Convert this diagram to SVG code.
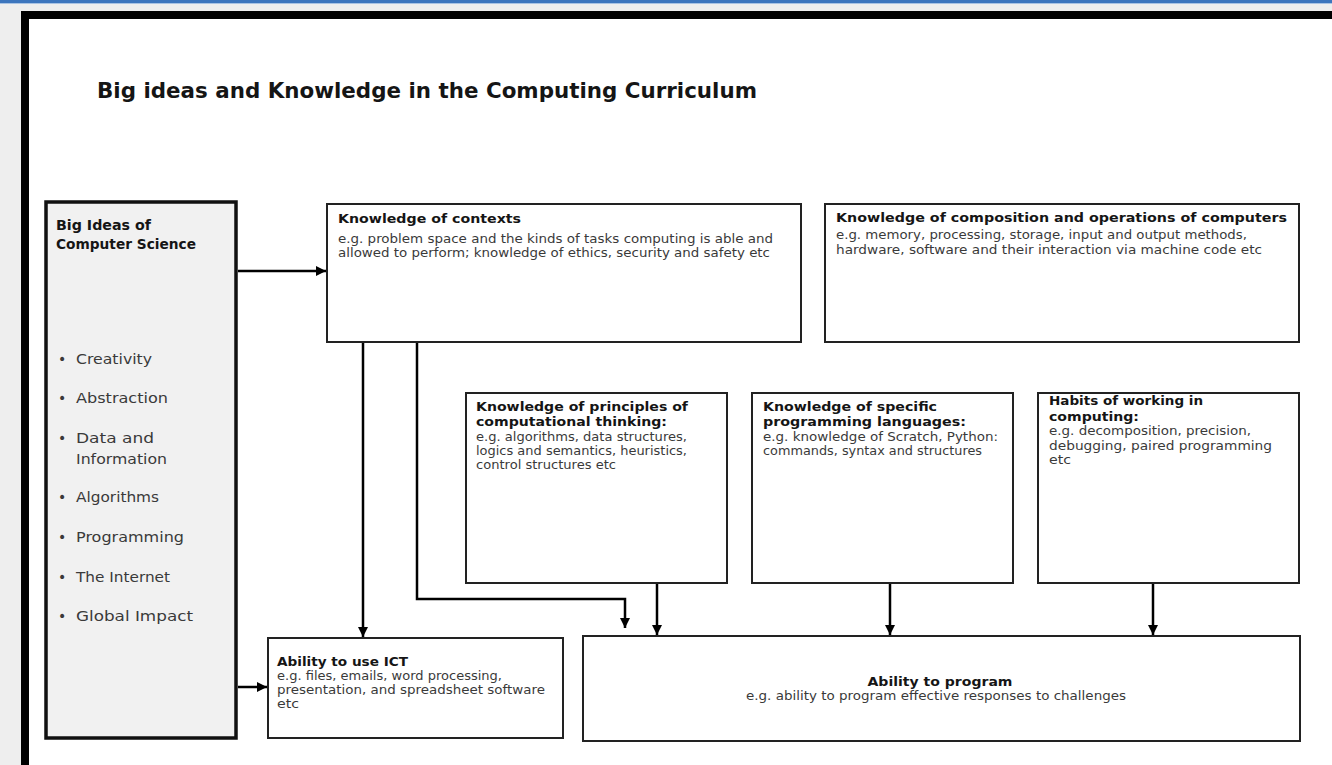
<svg xmlns="http://www.w3.org/2000/svg" width="1332" height="765" viewBox="0 0 1332 765">
<style>
.h{font-family:"DejaVu Sans","Liberation Sans",sans-serif;font-weight:bold;fill:#151515}
.b{font-family:"DejaVu Sans","Liberation Sans",sans-serif;fill:#3a3a3a;font-size:11.5px}
.hs{font-size:13px}
.li{font-family:"DejaVu Sans","Liberation Sans",sans-serif;fill:#3a3a3a;font-size:14px}
.box{fill:#fff;stroke:#222;stroke-width:2}
.big{fill:#f1f1f1;stroke:#111;stroke-width:3.5}
.con{fill:none;stroke:#000;stroke-width:2.5;marker-end:url(#ah)}
</style>
<defs>
<marker id="ah" markerUnits="userSpaceOnUse" markerWidth="11" markerHeight="11" refX="10" refY="5.5" orient="auto">
<path d="M0,0.5 L10,5.5 L0,10.5 z" fill="#000"/>
</marker>
</defs>
<rect x="0" y="0" width="1332" height="765" fill="#eeeeee"/>
<rect x="0" y="0" width="1332" height="3" fill="#3c75bd"/>
<rect x="0" y="3" width="1332" height="1" fill="#a9c3e3"/>
<rect x="25" y="15" width="1400" height="800" fill="#fff" stroke="#000" stroke-width="8"/>
<text class="h" x="97" y="98" font-size="22" textLength="660" lengthAdjust="spacingAndGlyphs">Big ideas and Knowledge in the Computing Curriculum</text>

<g id="big-ideas">
<rect class="big" x="46" y="202" width="190" height="536"/>
<text class="h" x="56" y="230" font-size="14" textLength="95" lengthAdjust="spacingAndGlyphs">Big Ideas of</text>
<text class="h" x="56" y="249" font-size="14" textLength="140" lengthAdjust="spacingAndGlyphs">Computer Science</text>
<g class="li">
<text x="58" y="364">•</text><text x="76" y="364" textLength="76" lengthAdjust="spacingAndGlyphs">Creativity</text>
<text x="58" y="403">•</text><text x="76" y="403" textLength="92" lengthAdjust="spacingAndGlyphs">Abstraction</text>
<text x="58" y="443">•</text><text x="76" y="443" textLength="78" lengthAdjust="spacingAndGlyphs">Data and</text>
<text x="76" y="464" textLength="91" lengthAdjust="spacingAndGlyphs">Information</text>
<text x="58" y="502">•</text><text x="76" y="502" textLength="83" lengthAdjust="spacingAndGlyphs">Algorithms</text>
<text x="58" y="542">•</text><text x="76" y="542" textLength="108" lengthAdjust="spacingAndGlyphs">Programming</text>
<text x="58" y="582">•</text><text x="76" y="582" textLength="94" lengthAdjust="spacingAndGlyphs">The Internet</text>
<text x="58" y="621">•</text><text x="76" y="621" textLength="117" lengthAdjust="spacingAndGlyphs">Global Impact</text>
</g>
</g>

<g id="contexts">
<rect class="box" x="327" y="204" width="474" height="138"/>
<text class="h hs" x="338" y="223" textLength="183" lengthAdjust="spacingAndGlyphs">Knowledge of contexts</text>
<text class="b" x="338" y="243" textLength="435" lengthAdjust="spacingAndGlyphs">e.g. problem space and the kinds of tasks computing is able and</text>
<text class="b" x="338" y="257" textLength="432" lengthAdjust="spacingAndGlyphs">allowed to perform; knowledge of ethics, security and safety etc</text>
</g>

<g id="composition">
<rect class="box" x="825" y="204" width="474" height="138"/>
<text class="h hs" x="836" y="222" textLength="451" lengthAdjust="spacingAndGlyphs">Knowledge of composition and operations of computers</text>
<text class="b" x="836" y="239" textLength="411" lengthAdjust="spacingAndGlyphs">e.g. memory, processing, storage, input and output methods,</text>
<text class="b" x="836" y="254" textLength="426" lengthAdjust="spacingAndGlyphs">hardware, software and their interaction via machine code etc</text>
</g>

<g id="principles">
<rect class="box" x="466" y="393" width="261" height="190"/>
<text class="h hs" x="476" y="411" textLength="212" lengthAdjust="spacingAndGlyphs">Knowledge of principles of</text>
<text class="h hs" x="476" y="426" textLength="191" lengthAdjust="spacingAndGlyphs">computational thinking:</text>
<text class="b" x="476" y="441" textLength="211" lengthAdjust="spacingAndGlyphs">e.g. algorithms, data structures,</text>
<text class="b" x="476" y="455" textLength="211" lengthAdjust="spacingAndGlyphs">logics and semantics, heuristics,</text>
<text class="b" x="476" y="469" textLength="140" lengthAdjust="spacingAndGlyphs">control structures etc</text>
</g>

<g id="languages">
<rect class="box" x="752" y="393" width="261" height="190"/>
<text class="h hs" x="763" y="411" textLength="174" lengthAdjust="spacingAndGlyphs">Knowledge of specific</text>
<text class="h hs" x="763" y="426" textLength="203" lengthAdjust="spacingAndGlyphs">programming languages:</text>
<text class="b" x="763" y="441" textLength="235" lengthAdjust="spacingAndGlyphs">e.g. knowledge of Scratch, Python:</text>
<text class="b" x="763" y="455" textLength="219" lengthAdjust="spacingAndGlyphs">commands, syntax and structures</text>
</g>

<g id="habits">
<rect class="box" x="1038" y="393" width="261" height="190"/>
<text class="h hs" x="1049" y="405" textLength="154" lengthAdjust="spacingAndGlyphs">Habits of working in</text>
<text class="h hs" x="1049" y="421" textLength="90" lengthAdjust="spacingAndGlyphs">computing:</text>
<text class="b" x="1049" y="435" textLength="202" lengthAdjust="spacingAndGlyphs">e.g. decomposition, precision,</text>
<text class="b" x="1049" y="450" textLength="223" lengthAdjust="spacingAndGlyphs">debugging, paired programming</text>
<text class="b" x="1049" y="464" textLength="22" lengthAdjust="spacingAndGlyphs">etc</text>
</g>

<g id="ict">
<rect class="box" x="268" y="638" width="295" height="100"/>
<text class="h hs" x="277" y="666" textLength="131" lengthAdjust="spacingAndGlyphs">Ability to use ICT</text>
<text class="b" x="277" y="680" textLength="225" lengthAdjust="spacingAndGlyphs">e.g. files, emails, word processing,</text>
<text class="b" x="277" y="694" textLength="268" lengthAdjust="spacingAndGlyphs">presentation, and spreadsheet software</text>
<text class="b" x="277" y="708" textLength="22" lengthAdjust="spacingAndGlyphs">etc</text>
</g>

<g id="program">
<rect class="box" x="583" y="636" width="717" height="105"/>
<text class="h hs" x="940" y="686" text-anchor="middle" textLength="145" lengthAdjust="spacingAndGlyphs">Ability to program</text>
<text class="b" x="936" y="700" text-anchor="middle" textLength="380" lengthAdjust="spacingAndGlyphs">e.g. ability to program effective responses to challenges</text>
</g>

<g id="connectors">
<path class="con" d="M238,271 H326"/>
<path class="con" d="M238,687 H267"/>
<path class="con" d="M363,343 V637"/>
<path class="con" d="M417,343 V599 H625 V628"/>
<path class="con" d="M657,584 V635"/>
<path class="con" d="M890,584 V635"/>
<path class="con" d="M1153,584 V635"/>
</g>
</svg>
